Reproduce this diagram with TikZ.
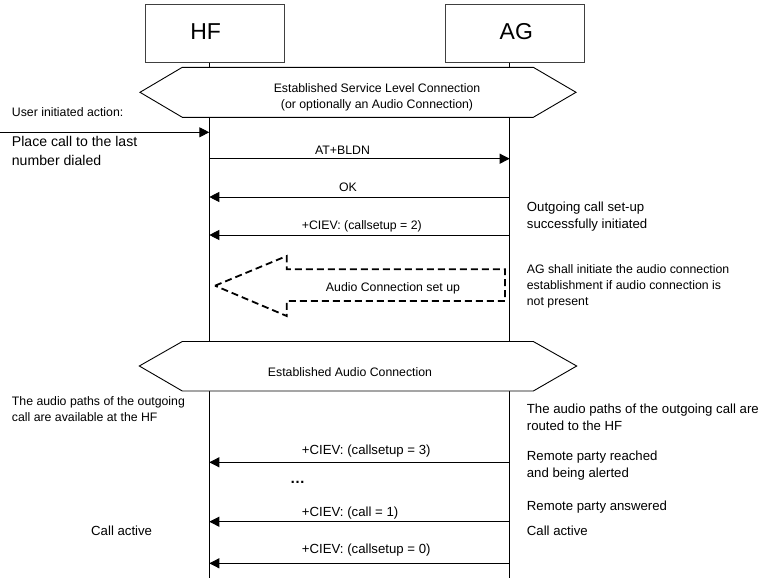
\documentclass[tikz,border=0pt]{standalone}
\usepackage{fontspec}
\setmainfont{Liberation Sans}
\usetikzlibrary{arrows.meta}
\tikzset{
  lifeline/.style={line width=1.2pt},
  msg/.style={line width=0.9pt,-{Triangle[length=10pt,width=10pt]}},
  entity/.style={draw=black!75,line width=0.8pt,minimum width=138.6pt,minimum height=58pt,inner sep=0pt},
  actor/.style={font=\fontsize{23}{26}\selectfont,inner sep=0pt},
  banner/.style={draw,line width=0.9pt,fill=white},
  setupbox/.style={draw,line width=1.8pt,dash pattern=on 7pt off 4pt},
  smalltext/.style={font=\fontsize{12.3}{16}\selectfont,inner sep=0pt},
  plaintext/.style={font=\fontsize{13.2}{17}\selectfont,inner sep=0pt},
  bigtext/.style={font=\fontsize{14.1}{19}\selectfont,inner sep=0pt}
}
\begin{document}
\begin{tikzpicture}[x=1pt,y=-1pt]
\useasboundingbox (0,0) rectangle (765,578);
% entities and lifelines
\node[entity] (hf) at (215,33.3) {};
\node[entity] (ag) at (514.8,33.3) {};
\node[actor,anchor=base] (hfname) at (205.7,40) {HF};
\node[actor,anchor=base] (agname) at (516.3,40) {AG};
\coordinate (hfend) at (209.3,578);
\coordinate (agend) at (509.7,578);
\draw[lifeline] (hf.south -| hfend) -- (hfend);
\draw[lifeline] (ag.south -| agend) -- (agend);
% connections (base = last line)
\draw[banner] (140,92.3) -- (182.3,67.3) -- (533.3,67.3) -- (576,92.3) -- (533.3,117.3) -- (182.3,117.3) -- cycle;
\node[smalltext,align=center,anchor=base] (slc) at (377,108.4) {Established Service Level Connection\\(or optionally an Audio Connection)};
\draw[banner] (139.3,366) -- (182.3,341.5) -- (533.3,341.5) -- (576.7,366) -- (533.3,391) -- (182.3,391) -- cycle;
\node[smalltext,anchor=base] (eac) at (350,376.4) {Established Audio Connection};
% messages
\foreach \n/\y in {usr/132.3,bldn/158.7,ok/197,cs2/235,cs3/462.3,c1/521.7,cs0/563.3}{
  \coordinate (hf-\n) at (209.3,\y);
  \coordinate (ag-\n) at (509.7,\y);
}
\coordinate (user) at (0,132.3);
\draw[msg] (user) -- (hf-usr);
\draw[msg] (hf-bldn) -- (ag-bldn);
\draw[msg] (ag-ok) -- (hf-ok);
\draw[msg] (ag-cs2) -- (hf-cs2);
\draw[msg] (ag-cs3) -- (hf-cs3);
\draw[msg] (ag-c1) -- (hf-c1);
\draw[msg] (ag-cs0) -- (hf-cs0);
\node[smalltext,anchor=base] (bldn) at (342.5,154.4) {AT+BLDN};
\node[smalltext,anchor=base] (ok) at (348,191) {OK};
\node[smalltext,anchor=base west] (cs2) at (301.7,229.4) {+CIEV: (callsetup = 2)};
\node[plaintext,anchor=base west] (cs3) at (301.7,454.8) {+CIEV: (callsetup = 3)};
\node[plaintext,anchor=base west] (dots) at (290,483.5) {\fontsize{15}{15}\selectfont\bfseries …};
\node[plaintext,anchor=base west] (c1) at (301.7,516.5) {+CIEV: (call = 1)};
\node[plaintext,anchor=base west] (cs0) at (301.7,553.8) {+CIEV: (callsetup = 0)};
% audio connection set up
\draw[setupbox] (215,285.7) -- (286.7,256) -- (286.7,269.3) -- (505,269.3) -- (505,301) -- (286.7,301) -- (286.7,316) -- cycle;
\node[smalltext,anchor=base] (acs) at (393,291) {Audio Connection set up};
% HF side
\node[smalltext,anchor=base west] (uia) at (11.7,116.4) {User initiated action:};
\node[bigtext,align=left,anchor=base west] (place) at (11.7,165) {Place call to the last\\number dialed};
\node[smalltext,align=left,anchor=base west] (hfpath) at (11.7,421.1) {The audio paths of the outgoing\\call are available at the HF};
\node[plaintext,anchor=base west] (hfact) at (91,535.5) {Call active};
% AG side
\node[plaintext,align=left,anchor=base west] (ogc) at (526.7,228.3) {Outgoing call set-up\\successfully initiated};
\node[smalltext,align=left,anchor=base west] (agsh) at (526.7,305.4) {AG shall initiate the audio connection\\establishment if audio connection is\\not present};
\node[plaintext,align=left,anchor=base west] (agpath) at (526.7,430) {The audio paths of the outgoing call are\\routed to the HF};
\node[plaintext,align=left,anchor=base west] (rpr) at (526.7,477.8) {Remote party reached\\and being alerted};
\node[plaintext,anchor=base west] (rpa) at (526.7,510.8) {Remote party answered};
\node[plaintext,anchor=base west] (agact) at (526.7,535.5) {Call active};
\end{tikzpicture}
\end{document}
